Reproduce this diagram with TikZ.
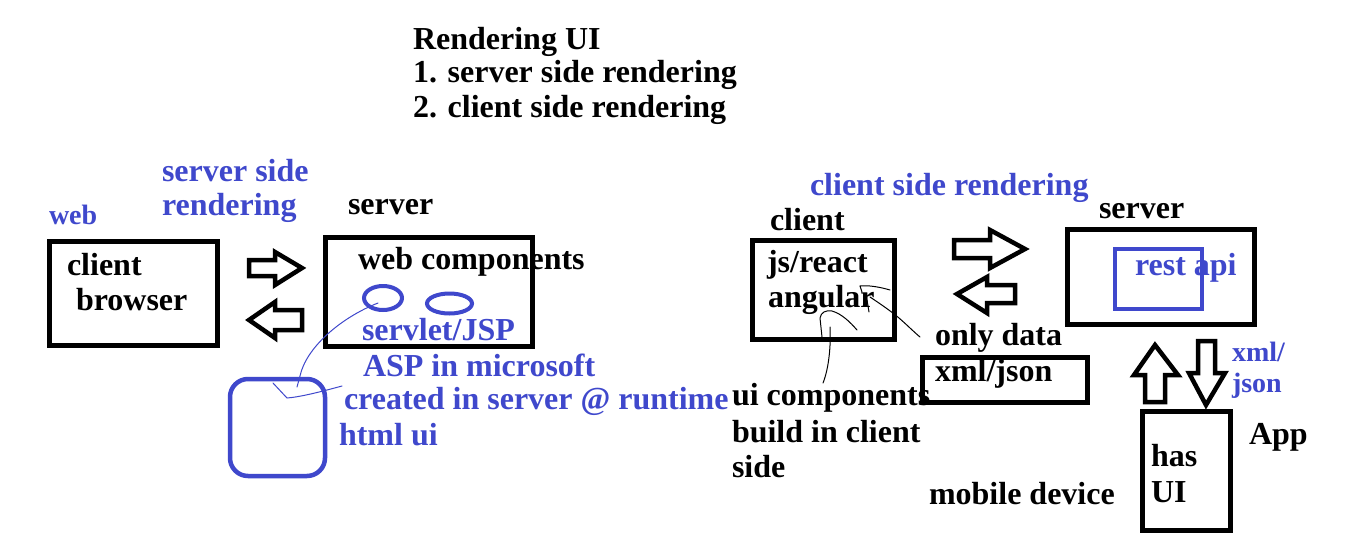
\documentclass[tikz,border=0pt]{standalone}
\usepackage{fontspec}
\setmainfont{Liberation Serif}
\definecolor{pblue}{RGB}{63,72,204}
\begin{document}
\begin{tikzpicture}[x=1pt,y=-1pt,
  txt/.style={anchor=base west,inner sep=0pt,outer sep=0pt,yshift=-2.5pt,font=\fontsize{32}{36}\selectfont\bfseries},
  btxt/.style={txt,text=pblue},
  stxt/.style={anchor=base west,inner sep=0pt,outer sep=0pt,yshift=-2pt,font=\fontsize{28}{32}\selectfont\bfseries,text=pblue},
  box/.style={draw=black,line width=5pt,inner sep=0pt,outer sep=0pt},
  bbox/.style={draw=pblue,line width=4.5pt,inner sep=0pt,outer sep=0pt},
  blk/.style={draw=black,line width=4.5pt,miter limit=10},
  scrib/.style={line width=1pt,line cap=round},
]
\useasboundingbox[fill=white] (0,0) rectangle (1349,544);

% title
\node[txt] (t1) at (413,47) {Rendering UI};
\node[txt] (t2) at (413,80) {1. server side rendering};
\node[txt] (t3) at (413,115) {2. client side rendering};

% ---------- left: server side rendering ----------
\node[stxt] (web) at (49,222) {web};
\node[btxt] (ssr1) at (162,179) {server side};
\node[btxt] (ssr2) at (162,213) {rendering};
\node[txt] (srvlbl) at (348,212) {server};

\draw[box] (49.5,241.5) rectangle (217.5,345.5);
\node[txt] (client) at (67,273) {client};
\node[txt] (browser) at (76,308) {browser};

\draw[box] (325.5,237.5) rectangle (532.5,346.5);
\node[txt] (webcomp) at (358,267) {web components};

\draw[draw=pblue,line width=4pt] (383,298) ellipse [x radius=19,y radius=12];
\draw[draw=pblue,line width=4pt] (449.5,303.5) ellipse [x radius=22.5,y radius=10];

\node[btxt] (servlet) at (362,338) {servlet/JSP};
\node[btxt] (asp) at (363,374) {ASP in microsoft};
\node[btxt] (created) at (344,407) {created in server @ runtime};
\node[btxt] (htmlui) at (339,443) {html ui};

\draw[bbox,rounded corners=18pt] (230,379) rectangle (325,476);

\draw[blk] (249,260) -- (275,260) -- (275,252) -- (302,268) -- (275,285) -- (275,276) -- (249,276) -- cycle;
\draw[blk] (249,320) -- (275,302) -- (275,310) -- (302,310) -- (302,330) -- (275,330) -- (275,338) -- cycle;

\draw[pblue,scrib] (378,303) .. controls (340,318) and (306,348) .. (300,376) -- (297,387);
\draw[pblue,scrib] (273,383) -- (287,398) .. controls (300,397) and (320,392) .. (342,386);

% ---------- right: client side rendering ----------
\node[btxt] (csr) at (810,193) {client side rendering};
\node[txt] (client2) at (770,228) {client};
\node[txt] (server2) at (1099,216) {server};

\draw[box] (752.5,240.5) rectangle (894.5,339.5);
\node[txt] (js) at (767,270) {js/react};
\node[txt] (ang) at (768,305) {angular};

\draw[box] (1067.5,229.5) rectangle (1254.5,324.5);
\draw[bbox] (1115,249) rectangle (1202,309);
\node[btxt] (rest) at (1135,273) {rest api};

\draw[blk] (954,240) -- (990,240) -- (990,230) -- (1025,249) -- (990,268) -- (990,258) -- (954,258) -- cycle;
\draw[blk] (957,294) -- (987,277) -- (987,285) -- (1015,285) -- (1015,303) -- (987,303) -- (987,313) -- cycle;

\node[txt] (only) at (935,343) {only data};
\draw[box] (922.5,357.5) rectangle (1087.5,402.5);
\node[txt] (xmljson) at (935,379) {xml/json};

\node[txt] (ui1) at (732,403) {ui components};
\node[txt] (ui2) at (732,440) {build in client};
\node[txt] (ui3) at (732,475) {side};

% scribbles
\draw[scrib] (890,290) .. controls (880,287) and (868,285) .. (860,286) -- (862,292);
\draw[scrib] (870,297) .. controls (882,305) and (892,312) .. (899,318) .. controls (906,324) and (914,332) .. (920,337);
\draw[scrib] (867,300) -- (869,312);
\draw[scrib] (857,330) .. controls (850,322) and (842,314) .. (832,311) .. controls (826,310) and (821,312) .. (820,318) -- (822,337);
\draw[scrib] (830,327) .. controls (831,345) and (829,368) .. (823,383);

% up/down arrows
\draw[blk] (1155,345) -- (1178,375) -- (1165,375) -- (1165,402) -- (1145,402) -- (1145,375) -- (1134,375) -- cycle;
\draw[blk] (1198,341) -- (1215,341) -- (1215,373) -- (1225,373) -- (1206,405) -- (1189,373) -- (1198,373) -- cycle;

\node[stxt] (xml2) at (1232,359) {xml/};
\node[stxt] (json2) at (1232,390) {json};

\draw[box] (1142.5,411.5) rectangle (1230.5,530.5);
\node[txt] (has) at (1151,464) {has};
\node[txt] (uiw) at (1151,500) {UI};
\node[txt] (app) at (1249,442) {App};
\node[txt] (mob) at (929,502) {mobile device};
\end{tikzpicture}
\end{document}
